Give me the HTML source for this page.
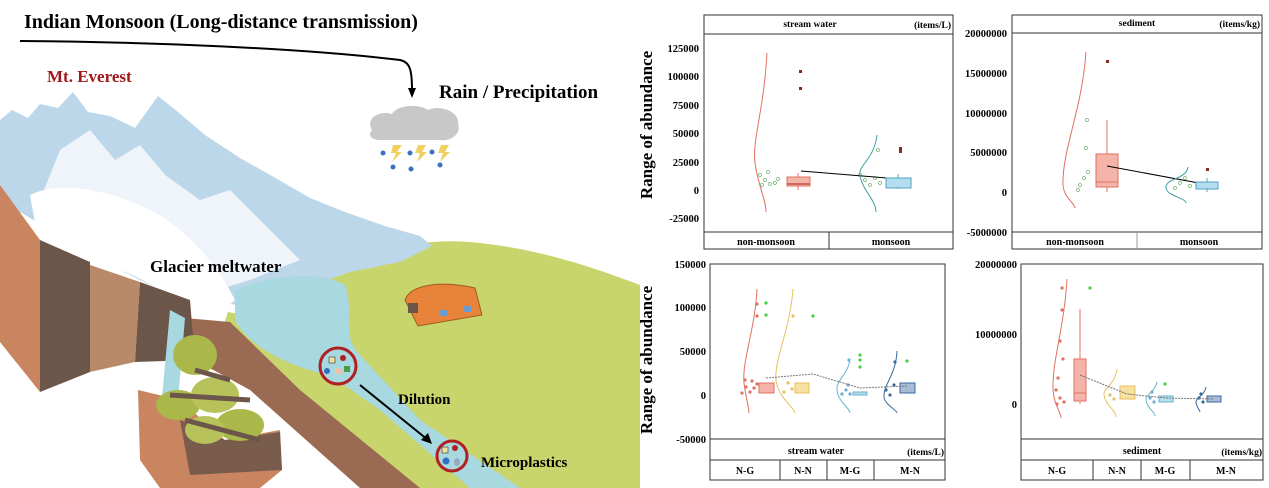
<!DOCTYPE html>
<html><head><meta charset="utf-8"><style>
html,body{margin:0;padding:0;background:#fff;}
svg{display:block;}
text{font-family:"Liberation Serif",serif;font-weight:bold;}
</style></head><body>
<svg width="1269" height="488" viewBox="0 0 1269 488" xmlns="http://www.w3.org/2000/svg">
<!-- ===== LEFT ILLUSTRATION ===== -->
<!-- green land -->
<path d="M330,275 C370,250 420,238 470,242 C540,248 600,270 640,285 L640,488 L430,488 L300,380 Z" fill="#c8d46c"/>
<path d="M228,312 L300,325 L340,380 L450,488 L420,488 L300,400 L222,330 Z" fill="#c8d46c"/>
<!-- mountain -->
<path d="M0,120 L12,110 L28,118 L40,104 L58,108 L73,92 L88,112 L110,116 L135,128 L158,96 L178,112 L205,135 L240,158 L272,176 L310,198 L345,212 L385,226 L420,236 L432,246 L400,262 L350,272 L300,290 L240,305 L180,300 L100,260 L0,200 Z" fill="#bcd6ea"/>
<path d="M60,150 L90,130 L115,160 L140,145 L165,175 L200,200 L230,190 L270,230 L300,260 L250,280 L200,295 L160,260 L100,240 L40,200 Z" fill="#eef4fa"/>
<path d="M30,195 C60,180 110,190 150,210 C190,230 220,270 235,300 C215,320 185,320 170,300 C140,270 90,260 40,250 Z" fill="#ffffff"/>
<!-- water pond and river -->
<path d="M235,290 C270,275 320,270 345,285 C355,310 340,335 360,355 L420,420 L520,488 L470,488 L380,410 L330,375 C300,370 250,350 235,320 Z" fill="#a8d8e0"/>
<!-- brown ridge -->
<path d="M185,318 L230,322 L300,390 L420,488 L360,488 L250,390 L195,360 Z" fill="#9b6a52"/>
<!-- left cliff -->
<path d="M0,185 L40,240 L40,392 L0,342 Z" fill="#c88560"/>
<path d="M40,240 L90,262 L90,372 L40,392 Z" fill="#6c564a"/>
<path d="M90,265 L140,282 L135,362 L90,372 Z" fill="#b98a6a"/>
<path d="M140,282 L190,300 L195,360 L135,362 Z" fill="#6c564a"/>
<!-- meltwater fall -->
<path d="M170,310 L185,318 L178,400 L165,430 L158,470 L150,470 L160,420 Z" fill="#a8d8e0"/>
<!-- rock pile -->
<path d="M138,390 L180,400 L225,440 L280,430 L282,470 L260,488 L160,488 L140,460 Z" fill="#c88560"/>
<path d="M180,420 L225,440 L280,432 L282,470 L190,475 Z" fill="#7a5c4c"/>
<ellipse cx="195" cy="355" rx="22" ry="20" fill="#aab84a"/>
<ellipse cx="178" cy="405" rx="22" ry="15" fill="#aab84a"/>
<ellipse cx="215" cy="395" rx="24" ry="18" fill="#b7c25a"/>
<ellipse cx="240" cy="425" rx="24" ry="16" fill="#aab84a"/>
<ellipse cx="205" cy="430" rx="20" ry="14" fill="#b7c25a"/>
<path d="M170,395 L250,400 M185,420 L260,440 M195,370 L230,380" stroke="#6c564a" stroke-width="5"/>
<!-- hut -->
<path d="M405,300 C410,285 440,280 475,288 L482,315 L418,326 Z" fill="#e8843a" stroke="#a05a20"/>
<rect x="408" y="303" width="10" height="10" fill="#6c564a"/>
<rect x="440" y="310" width="7" height="6" fill="#6a9ad0"/><rect x="464" y="306" width="7" height="6" fill="#6a9ad0"/>
<!-- microplastic circles -->
<circle cx="338" cy="366" r="18" fill="#a8d8e0" stroke="#b02020" stroke-width="3"/>
<rect x="329" y="357" width="6" height="6" fill="#f0e0a0" stroke="#333" stroke-width=".6"/>
<circle cx="343" cy="358" r="3" fill="#b02020"/><rect x="335" y="368" width="6" height="6" fill="#f0c0b0"/><rect x="344" y="366" width="6" height="6" fill="#4a9a4a"/><circle cx="327" cy="371" r="3" fill="#3070c0"/>
<circle cx="452" cy="456" r="15" fill="#a8d8e0" stroke="#b02020" stroke-width="3"/>
<rect x="442" y="447" width="6" height="6" fill="#f0e0a0" stroke="#333" stroke-width=".6"/><circle cx="455" cy="448" r="3" fill="#b02020"/><circle cx="446" cy="461" r="3.5" fill="#3070c0"/><ellipse cx="457" cy="462" rx="3" ry="4" fill="#9ab"/>
<path d="M360,385 L428,440" stroke="#000" stroke-width="2"/><path d="M432,444 L421,440 L428,433 Z" fill="#000"/>
<!-- cloud & rain -->
<path d="M372,130 C365,118 380,110 392,114 C398,104 420,104 428,110 C440,104 460,112 458,124 C462,134 450,142 440,140 L380,140 C370,140 368,134 372,130 Z" fill="#c8c8c8"/>
<g fill="#3a70c0"><circle cx="383" cy="153" r="2.5"/><circle cx="410" cy="153" r="2.5"/><circle cx="432" cy="152" r="2.5"/><circle cx="393" cy="167" r="2.5"/><circle cx="411" cy="169" r="2.5"/><circle cx="440" cy="165" r="2.5"/></g>
<g fill="#f0d060"><path d="M393,145 L402,145 L397,152 L402,152 L392,162 L396,153 L391,153 Z"/><path d="M418,145 L426,145 L422,152 L427,152 L417,162 L420,153 L415,153 Z"/><path d="M441,145 L449,145 L445,152 L450,152 L440,162 L443,153 L438,153 Z"/></g>
<!-- monsoon line -->
<path d="M20,41 C150,42 300,48 400,60 C410,62 412,70 412,90" fill="none" stroke="#000" stroke-width="2"/>
<path d="M408,88 L416,88 L412,98 Z" fill="#000"/>
<text x="24" y="28" font-size="20">Indian Monsoon (Long-distance transmission)</text>
<text x="47" y="82" font-size="17" fill="#a01818">Mt. Everest</text>
<text x="439" y="98" font-size="19">Rain / Precipitation</text>
<text x="150" y="272" font-size="17">Glacier meltwater</text>
<text x="398" y="404" font-size="15">Dilution</text>
<text x="481" y="467" font-size="15">Microplastics</text>

<!-- ===== CHARTS ===== -->
<g font-size="10.5">
<text transform="translate(652,125) rotate(-90)" text-anchor="middle" font-size="17">Range of abundance</text>
<text transform="translate(652,360) rotate(-90)" text-anchor="middle" font-size="17">Range of abundance</text>

<!-- TOP LEFT -->
<rect x="704" y="15" width="249" height="234" fill="none" stroke="#333"/>
<line x1="704" y1="34" x2="953" y2="34" stroke="#333"/>
<line x1="704" y1="232" x2="953" y2="232" stroke="#333"/>
<line x1="829" y1="232" x2="829" y2="249" stroke="#333"/>
<text x="810" y="27" text-anchor="middle" font-size="9.5">stream water</text>
<text x="951" y="28" text-anchor="end" font-size="9.5">(items/L)</text>
<text x="766" y="245" text-anchor="middle" font-size="10">non-monsoon</text>
<text x="891" y="245" text-anchor="middle" font-size="10">monsoon</text>
<g text-anchor="end"><text x="699" y="52">125000</text><text x="699" y="80">100000</text><text x="699" y="109">75000</text><text x="699" y="137">50000</text><text x="699" y="166">25000</text><text x="699" y="194">0</text><text x="699" y="222">-25000</text></g>
<path d="M767,53 C764,110 752,140 755,163 C758,185 766,200 766,212" fill="none" stroke="#e07060"/>
<g fill="none" stroke="#70b070" stroke-width=".7"><circle cx="760" cy="175" r="1.5"/><circle cx="765" cy="180" r="1.5"/><circle cx="770" cy="184" r="1.5"/><circle cx="775" cy="183" r="1.5"/><circle cx="762" cy="185" r="1.5"/><circle cx="778" cy="179" r="1.5"/><circle cx="768" cy="172" r="1.5"/><circle cx="875" cy="178" r="1.5"/><circle cx="880" cy="183" r="1.5"/><circle cx="870" cy="185" r="1.5"/><circle cx="865" cy="180" r="1.5"/><circle cx="860" cy="175" r="1.5"/><circle cx="878" cy="150" r="1.5"/></g>
<line x1="798" y1="173" x2="798" y2="190" stroke="#e07060"/>
<rect x="787" y="177" width="23" height="9" fill="#f4b4aa" stroke="#e07060"/>
<line x1="787" y1="184" x2="810" y2="184" stroke="#c05040" stroke-width="1.5"/>
<rect x="799" y="70" width="3" height="3" fill="#8a2a1a"/><rect x="799" y="87" width="3" height="3" fill="#8a2a1a"/>
<line x1="801" y1="171" x2="900" y2="179" stroke="#000"/>
<path d="M877,135 C874,160 858,165 860,175 C862,190 876,200 876,212" fill="none" stroke="#40a0a0"/>
<line x1="898" y1="174" x2="898" y2="189" stroke="#50a0c0"/>
<rect x="886" y="178" width="25" height="10" fill="#b4def0" stroke="#50a0c0"/>
<rect x="899" y="147" width="3" height="6" fill="#8a2a1a"/>

<!-- TOP RIGHT -->
<rect x="1012" y="15" width="250" height="234" fill="none" stroke="#333"/>
<line x1="1012" y1="33" x2="1262" y2="33" stroke="#333"/>
<line x1="1012" y1="232" x2="1262" y2="232" stroke="#333"/>
<line x1="1137" y1="232" x2="1137" y2="249" stroke="#999"/>
<text x="1137" y="26" text-anchor="middle" font-size="9.5">sediment</text>
<text x="1260" y="27" text-anchor="end" font-size="9.5">(items/kg)</text>
<text x="1075" y="245" text-anchor="middle" font-size="10">non-monsoon</text>
<text x="1199" y="245" text-anchor="middle" font-size="10">monsoon</text>
<g text-anchor="end"><text x="1007" y="37">20000000</text><text x="1007" y="77">15000000</text><text x="1007" y="117">10000000</text><text x="1007" y="156">5000000</text><text x="1007" y="196">0</text><text x="1007" y="236">-5000000</text></g>
<path d="M1086,52 C1082,110 1062,150 1063,185 C1064,198 1074,202 1075,208" fill="none" stroke="#e07060"/>
<g fill="none" stroke="#70b070" stroke-width=".7"><circle cx="1080" cy="185" r="1.5"/><circle cx="1084" cy="178" r="1.5"/><circle cx="1078" cy="190" r="1.5"/><circle cx="1088" cy="172" r="1.5"/><circle cx="1086" cy="148" r="1.5"/><circle cx="1087" cy="120" r="1.5"/><circle cx="1180" cy="183" r="1.5"/><circle cx="1175" cy="188" r="1.5"/><circle cx="1185" cy="178" r="1.5"/><circle cx="1190" cy="186" r="1.5"/></g>
<line x1="1107" y1="120" x2="1107" y2="192" stroke="#e07060"/>
<rect x="1096" y="154" width="22" height="33" fill="#f4b4aa" stroke="#e07060"/>
<line x1="1096" y1="182" x2="1118" y2="182" stroke="#e07060"/>
<rect x="1106" y="60" width="3" height="3" fill="#8a2a1a"/>
<line x1="1107" y1="166" x2="1204" y2="184" stroke="#000"/>
<path d="M1188,167 C1186,180 1165,178 1166,188 C1167,196 1186,198 1186,203" fill="none" stroke="#40a0a0"/>
<line x1="1207" y1="178" x2="1207" y2="192" stroke="#50a0c0"/>
<rect x="1196" y="182" width="22" height="7" fill="#b4def0" stroke="#50a0c0"/>
<rect x="1206" y="168" width="3" height="3" fill="#8a2a1a"/>

<!-- BOTTOM LEFT -->
<rect x="710" y="264" width="235" height="216" fill="none" stroke="#333"/>
<line x1="710" y1="439" x2="945" y2="439" stroke="#333"/>
<line x1="710" y1="460" x2="945" y2="460" stroke="#333"/>
<line x1="780" y1="460" x2="780" y2="480" stroke="#333"/><line x1="827" y1="460" x2="827" y2="480" stroke="#333"/><line x1="874" y1="460" x2="874" y2="480" stroke="#333"/>
<text x="816" y="454" text-anchor="middle" font-size="10">stream water</text>
<text x="944" y="455" text-anchor="end" font-size="9.5">(items/L)</text>
<g text-anchor="middle" font-size="10"><text x="745" y="474">N-G</text><text x="803" y="474">N-N</text><text x="850" y="474">M-G</text><text x="910" y="474">M-N</text></g>
<g text-anchor="end"><text x="706" y="268">150000</text><text x="706" y="311">100000</text><text x="706" y="355">50000</text><text x="706" y="399">0</text><text x="706" y="443">-50000</text></g>
<path d="M757,289 C755,330 742,360 744,383 C746,398 749,408 749,413" fill="none" stroke="#e07060"/>
<path d="M793,289 C790,330 774,360 776,380 C778,398 795,408 795,413" fill="none" stroke="#e8c060"/>
<path d="M850,359 C848,375 836,380 837,390 C838,402 850,408 850,413" fill="none" stroke="#6ab0d0"/>
<path d="M897,351 C896,375 883,385 884,397 C885,405 897,410 897,413" fill="none" stroke="#3a6a9a"/>
<g fill="#e07060"><circle cx="742" cy="393" r="1.6"/><circle cx="746" cy="387" r="1.6"/><circle cx="750" cy="392" r="1.6"/><circle cx="754" cy="388" r="1.6"/><circle cx="745" cy="380" r="1.6"/><circle cx="752" cy="381" r="1.6"/><circle cx="757" cy="384" r="1.6"/><circle cx="757" cy="304" r="1.6"/><circle cx="757" cy="316" r="1.6"/></g>
<g fill="#e8c060"><circle cx="784" cy="392" r="1.6"/><circle cx="788" cy="383" r="1.6"/><circle cx="792" cy="389" r="1.6"/><circle cx="793" cy="316" r="1.6"/></g>
<g fill="#6ab0d0"><circle cx="842" cy="394" r="1.6"/><circle cx="846" cy="390" r="1.6"/><circle cx="850" cy="394" r="1.6"/><circle cx="848" cy="385" r="1.6"/><circle cx="849" cy="360" r="1.6"/></g>
<g fill="#3a6a9a"><circle cx="886" cy="390" r="1.6"/><circle cx="890" cy="395" r="1.6"/><circle cx="894" cy="385" r="1.6"/><circle cx="895" cy="362" r="1.6"/></g>
<g fill="#40d040"><circle cx="766" cy="303" r="1.6"/><circle cx="766" cy="315" r="1.6"/><circle cx="813" cy="316" r="1.6"/><circle cx="860" cy="355" r="1.6"/><circle cx="860" cy="360" r="1.6"/><circle cx="860" cy="367" r="1.6"/><circle cx="907" cy="361" r="1.6"/></g>
<rect x="759" y="383" width="15" height="10" fill="#f4b4aa" stroke="#e07060"/>
<rect x="795" y="383" width="14" height="10" fill="#f8e0a0" stroke="#e8c060"/>
<rect x="853" y="392" width="14" height="3" fill="#b4def0" stroke="#6ab0d0"/>
<rect x="900" y="383" width="15" height="10" fill="#a8bcd8" stroke="#3a6a9a"/>
<polyline points="766,378 813,374 860,388 907,386" fill="none" stroke="#777" stroke-dasharray="2,1"/>

<!-- BOTTOM RIGHT -->
<rect x="1021" y="264" width="242" height="216" fill="none" stroke="#333"/>
<line x1="1021" y1="439" x2="1263" y2="439" stroke="#333"/>
<line x1="1021" y1="460" x2="1263" y2="460" stroke="#333"/>
<line x1="1093" y1="460" x2="1093" y2="480" stroke="#333"/><line x1="1141" y1="460" x2="1141" y2="480" stroke="#333"/><line x1="1190" y1="460" x2="1190" y2="480" stroke="#333"/>
<text x="1142" y="454" text-anchor="middle" font-size="10">sediment</text>
<text x="1262" y="455" text-anchor="end" font-size="9.5">(items/kg)</text>
<g text-anchor="middle" font-size="10"><text x="1057" y="474">N-G</text><text x="1117" y="474">N-N</text><text x="1165" y="474">M-G</text><text x="1226" y="474">M-N</text></g>
<g text-anchor="end"><text x="1017" y="268">20000000</text><text x="1017" y="338">10000000</text><text x="1017" y="408">0</text></g>
<path d="M1067,279 C1064,330 1052,360 1053,390 C1054,405 1061,412 1061,418" fill="none" stroke="#e07060"/>
<path d="M1117,369 C1115,385 1103,388 1104,395 C1105,405 1116,410 1116,417" fill="none" stroke="#e8c060"/>
<path d="M1157,382 C1155,392 1145,395 1146,400 C1147,408 1155,412 1155,416" fill="none" stroke="#6ab0d0"/>
<path d="M1206,387 C1205,395 1195,398 1196,403 C1197,408 1200,410 1200,412" fill="none" stroke="#3a6a9a"/>
<g fill="#e07060"><circle cx="1062" cy="288" r="1.6"/><circle cx="1062" cy="310" r="1.6"/><circle cx="1060" cy="341" r="1.6"/><circle cx="1063" cy="359" r="1.6"/><circle cx="1058" cy="378" r="1.6"/><circle cx="1056" cy="390" r="1.6"/><circle cx="1060" cy="398" r="1.6"/><circle cx="1064" cy="402" r="1.6"/><circle cx="1057" cy="404" r="1.6"/></g>
<g fill="#e8c060"><circle cx="1110" cy="395" r="1.6"/><circle cx="1114" cy="399" r="1.6"/></g>
<g fill="#6ab0d0"><circle cx="1150" cy="398" r="1.6"/><circle cx="1154" cy="402" r="1.6"/><circle cx="1152" cy="392" r="1.6"/></g>
<g fill="#3a6a9a"><circle cx="1199" cy="398" r="1.6"/><circle cx="1203" cy="402" r="1.6"/><circle cx="1201" cy="394" r="1.6"/></g>
<g fill="#40d040"><circle cx="1090" cy="288" r="1.6"/><circle cx="1165" cy="384" r="1.6"/></g>
<line x1="1080" y1="309" x2="1080" y2="404" stroke="#e07060"/>
<rect x="1074" y="359" width="12" height="42" fill="#f4b4aa" stroke="#e07060"/>
<line x1="1074" y1="393" x2="1086" y2="393" stroke="#e07060"/>
<rect x="1120" y="386" width="15" height="13" fill="#f8e0a0" stroke="#e8c060"/>
<rect x="1159" y="396" width="14" height="6" fill="#b4def0" stroke="#6ab0d0"/>
<rect x="1207" y="396" width="14" height="6" fill="#a8bcd8" stroke="#3a6a9a"/>
<polyline points="1080,375 1127,394 1166,398 1214,399" fill="none" stroke="#777" stroke-dasharray="2,1"/>
</g>
</svg>
</body></html>
